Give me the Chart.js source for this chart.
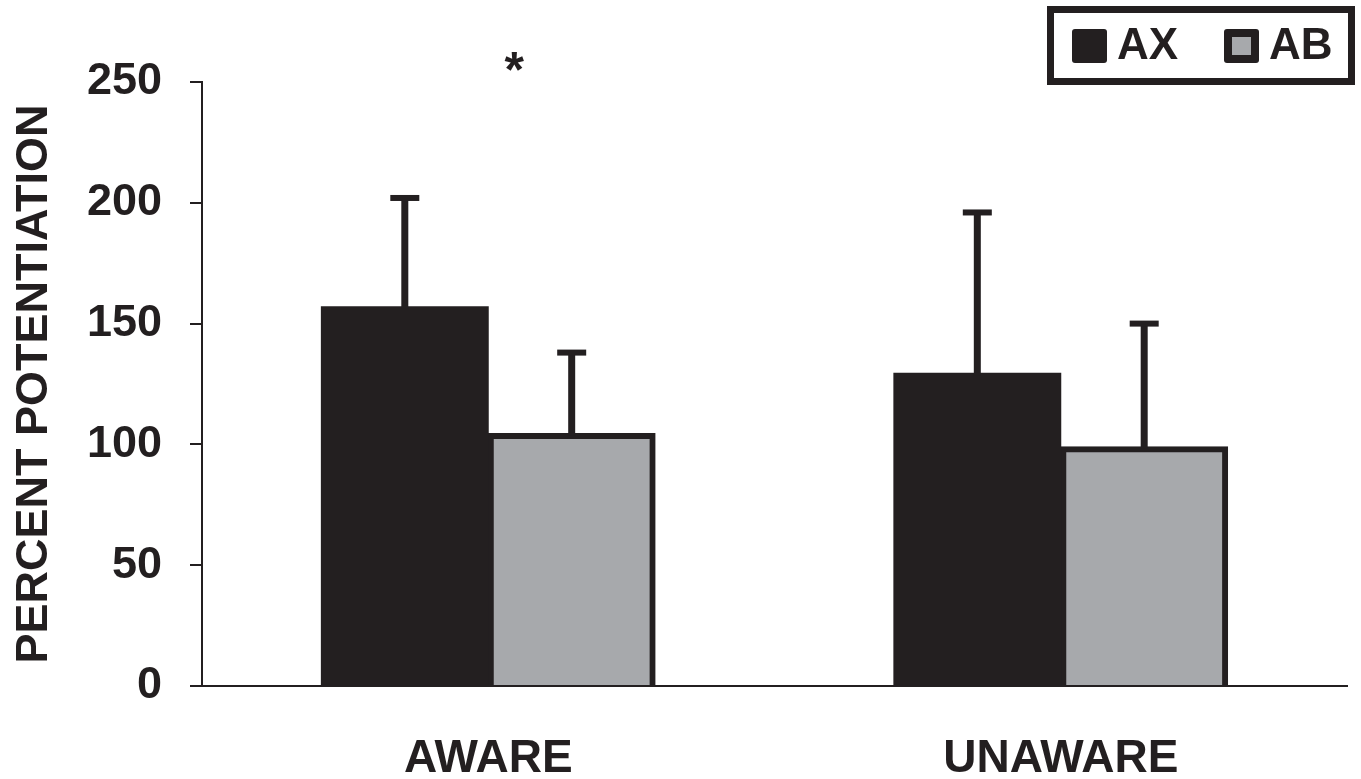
<!DOCTYPE html>
<html>
<head>
<meta charset="utf-8">
<script src="https://cdn.jsdelivr.net/npm/chart.js@4"></script>
<style>
  html, body { margin: 0; padding: 0; background: #ffffff; }
  #wrap { width: 1361px; height: 779px; }
</style>
</head>
<body>
<div id="wrap"><canvas id="c" width="1361" height="779"></canvas></div>
<script>
// Groups and series
const groups = ['AWARE', 'UNAWARE'];
const seriesNames = ['AX', 'AB'];
const axMeans = [157, 129.5];
const abMeans = [104.5, 99];
// Upper end of each error bar (mean + error)
const axUpper = [202, 196];
const abUpper = [138, 150];
const yTicks = [0, 50, 100, 150, 200, 250];

const INK = '#231f20';
const GREY = '#a7a9ac';
const FONT = '"Liberation Sans", Arial, Helvetica, sans-serif';

// Draws the upper error whiskers on top of each bar
const errorBars = {
  id: 'errorBars',
  afterDatasetsDraw(chart) {
    const ctx = chart.ctx;
    const y = chart.scales.y;
    const uppers = [axUpper, abUpper];
    chart.data.datasets.forEach((ds, di) => {
      const meta = chart.getDatasetMeta(di);
      meta.data.forEach((bar, i) => {
        const x = bar.x;
        const top = y.getPixelForValue(uppers[di][i]);
        ctx.save();
        ctx.fillStyle = INK;
        ctx.fillRect(x - 3.5, top, 7, bar.y - top + 2);
        ctx.fillRect(x - 14.5, top - 3, 29, 6);
        ctx.restore();
      });
    });
  }
};

// Boxed legend in the upper right corner and the significance mark
const decorations = {
  id: 'decorations',
  afterDraw(chart) {
    const ctx = chart.ctx;
    const W = chart.width;
    ctx.save();
    // legend frame
    ctx.strokeStyle = INK;
    ctx.lineWidth = 7;
    ctx.strokeRect(W - 310.5, 9.5, 301, 72);
    ctx.font = 'bold 44px ' + FONT;
    ctx.textBaseline = 'middle';
    ctx.textAlign = 'left';
    const items = [
      { x: W - 289, fill: INK },
      { x: W - 137, fill: GREY }
    ];
    chart.data.datasets.forEach((ds, i) => {
      const it = items[i];
      ctx.fillStyle = INK;
      ctx.beginPath();
      ctx.roundRect(it.x, 29, 35, 34, 3);
      ctx.fill();
      if (it.fill !== INK) {
        ctx.fillStyle = it.fill;
        ctx.fillRect(it.x + 8, 37, 19, 18);
      }
      ctx.fillStyle = INK;
      ctx.fillText(ds.label, it.x + 45, 47);
    });
    // significance asterisk above the AWARE group
    const xs = chart.scales.x;
    const ys = chart.scales.y;
    ctx.font = 'bold 50px ' + FONT;
    ctx.textAlign = 'center';
    ctx.textBaseline = 'alphabetic';
    ctx.fillText('*', xs.getPixelForValue(0) + 26, ys.getPixelForValue(250) + 5);
    ctx.restore();
  }
};

new Chart(document.getElementById('c'), {
  type: 'bar',
  data: {
    labels: groups,
    datasets: [
      {
        label: seriesNames[0],
        data: axMeans,
        backgroundColor: INK,
        borderColor: INK,
        borderWidth: 0,
        inflateAmount: 0.5,
        borderSkipped: 'start'
      },
      {
        label: seriesNames[1],
        data: abMeans,
        backgroundColor: GREY,
        borderColor: INK,
        borderWidth: 6,
        inflateAmount: 0.5,
        borderSkipped: 'start'
      }
    ]
  },
  options: {
    responsive: false,
    animation: false,
    events: [],
    layout: { padding: { top: 82, right: 14, left: 0, bottom: 0 } },
    datasets: { bar: { barPercentage: 1, categoryPercentage: 0.583 } },
    plugins: {
      legend: { display: false },
      tooltip: { enabled: false }
    },
    scales: {
      x: {
        grid: { display: false, drawTicks: false },
        border: { display: true, color: INK, width: 2 },
        ticks: {
          color: INK,
          padding: 46,
          font: { family: FONT, size: 46, weight: 'bold' }
        },
        afterFit(scale) { scale.height = 93; }
      },
      y: {
        min: 0,
        max: 250,
        afterBuildTicks(scale) { scale.ticks = yTicks.map(v => ({ value: v })); },
        grid: { drawOnChartArea: false, drawTicks: true, tickLength: 12, color: INK, lineWidth: 2 },
        border: { display: true, color: INK, width: 2 },
        ticks: {
          color: INK,
          padding: 28,
          font: { family: FONT, size: 45, weight: 'bold' }
        },
        title: {
          display: true,
          text: 'PERCENT POTENTIATION',
          color: INK,
          padding: { top: 8, bottom: 0 },
          font: { family: FONT, size: 45, weight: 'bold' }
        },
        afterFit(scale) { scale.width = 202; }
      }
    }
  },
  plugins: [errorBars, decorations]
});
</script>
</body>
</html>
